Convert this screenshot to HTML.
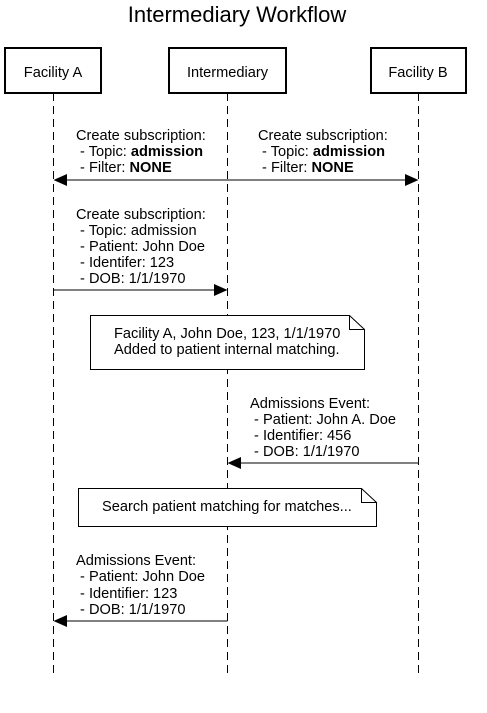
<!DOCTYPE html>
<html><head><meta charset="utf-8"><style>
body{margin:0;background:#fff;}
svg text{font-family:"Liberation Sans",Helvetica,Arial,sans-serif;font-size:14.6px;fill:#000;}
</style></head><body>
<svg width="487" height="708" viewBox="0 0 487 708" xmlns="http://www.w3.org/2000/svg">
<rect width="487" height="708" fill="#fff"/>
<text x="237" y="22" text-anchor="middle" style="font-size:22px">Intermediary Workflow</text>
<g stroke="#000" stroke-width="1" stroke-dasharray="8,5" fill="none">
<line x1="53.5" y1="93" x2="53.5" y2="677"/>
<line x1="227.5" y1="93" x2="227.5" y2="677"/>
<line x1="418.5" y1="93" x2="418.5" y2="677"/>
</g>
<g stroke="#000" stroke-width="2" fill="#fff">
<rect x="5" y="48" width="96" height="45"/>
<rect x="169" y="48" width="117" height="45"/>
<rect x="371" y="48" width="95" height="45"/>
</g>
<text x="53" y="77" text-anchor="middle">Facility A</text>
<text x="227.5" y="77" text-anchor="middle">Intermediary</text>
<text x="418" y="77" text-anchor="middle">Facility B</text>

<text x="76" y="140">Create subscription:</text>
<text x="76" y="156">&#160;- Topic: <tspan font-weight="bold">admission</tspan></text>
<text x="76" y="172">&#160;- Filter: <tspan font-weight="bold">NONE</tspan></text>
<text x="258" y="140">Create subscription:</text>
<text x="258" y="156">&#160;- Topic: <tspan font-weight="bold">admission</tspan></text>
<text x="258" y="172">&#160;- Filter: <tspan font-weight="bold">NONE</tspan></text>
<line x1="60" y1="180" x2="412" y2="180" stroke="#000"/>
<polygon points="53.5,180 67,174 67,186" fill="#000"/>
<polygon points="418.5,180 405,174 405,186" fill="#000"/>

<text x="76" y="219">Create subscription:</text>
<text x="76" y="235">&#160;- Topic: admission</text>
<text x="76" y="251">&#160;- Patient: John Doe</text>
<text x="76" y="267">&#160;- Identifer: 123</text>
<text x="76" y="283">&#160;- DOB: 1/1/1970</text>
<line x1="53.5" y1="290" x2="220" y2="290" stroke="#000"/>
<polygon points="227.5,290 214,284 214,296" fill="#000"/>

<path d="M90.5,315.5 H349.5 L364.5,329.5 V369.5 H90.5 Z" fill="#fff" stroke="#000"/>
<path d="M349.5,315.5 V329.5 H364.5" fill="none" stroke="#000"/>
<text x="114" y="338">Facility A, John Doe, 123, 1/1/1970</text>
<text x="114" y="354">Added to patient internal matching.</text>

<text x="250" y="408">Admissions Event:</text>
<text x="250" y="424">&#160;- Patient: John A. Doe</text>
<text x="250" y="440">&#160;- Identifier: 456</text>
<text x="250" y="456">&#160;- DOB: 1/1/1970</text>
<line x1="235" y1="463" x2="418.5" y2="463" stroke="#000"/>
<polygon points="227.5,463 241,457 241,469" fill="#000"/>

<path d="M78.5,488.5 H361.5 L376.5,502.5 V526.5 H78.5 Z" fill="#fff" stroke="#000"/>
<path d="M361.5,488.5 V502.5 H376.5" fill="none" stroke="#000"/>
<text x="102" y="511">Search patient matching for matches...</text>

<text x="76" y="565">Admissions Event:</text>
<text x="76" y="581">&#160;- Patient: John Doe</text>
<text x="76" y="598">&#160;- Identifier: 123</text>
<text x="76" y="614">&#160;- DOB: 1/1/1970</text>
<line x1="60" y1="621" x2="227.5" y2="621" stroke="#000"/>
<polygon points="53.5,621 67,615 67,627" fill="#000"/>
</svg>
</body></html>
